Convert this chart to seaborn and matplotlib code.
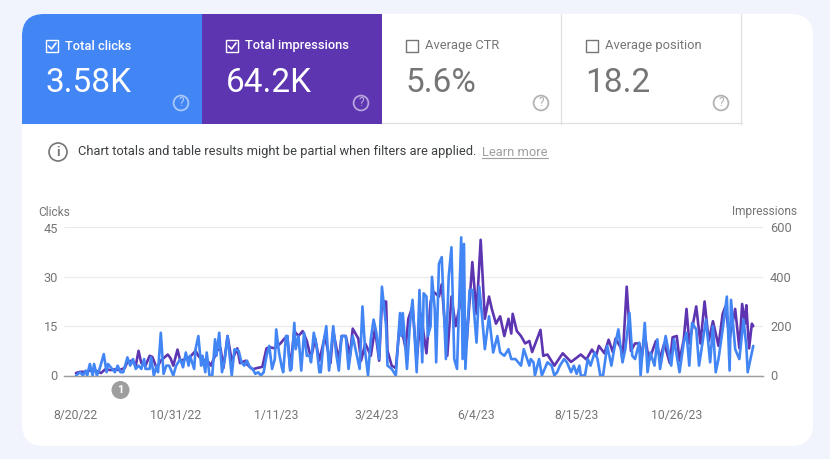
import pandas as pd
import matplotlib
matplotlib.use('Agg')
import matplotlib.pyplot as plt
from matplotlib.patches import Rectangle, Circle, FancyBboxPatch
import seaborn as sns

# days since 8/20/22 and values
click_days = [0,3,5,7,8,10,12,13,15,17,20,22,23,25,28,30,32,34,37,39,41,43,45,47,49,50,53,54,56,58,59,61,63,65,67,70,72,75,77,79,81,82,85,86,88,90,91,93,94,96,98,100,101,103,105,107,109,112,114,117,119,121,123,125,127,129,131,133,135,137,139,141,143,144,146,148,149,151,152,154,155,157,158,160,162,164,166,168,169,171,173,175,176,178,180,182,185,187,189,191,194,196,199,201,204,206,208,210,212,214,216,218,220,223,224,227,230,233,234,235,238,240,242,245,247,249,250,252,253,255,256,258,259,261,263,265,266,268,270,272,274,277,278,279,280,283,285,288,290,292,294,297,300,303,305,308,311,313,316,320,322,326,327,329,330,333,335,339,342,344,346,348,351,353,356,358,360,362,363,366,368,370,373,375,377,379,382,385,387,390,393,395,398,400,402,405,406,409,411,413,416,418,420,424,428,430,434,437,439,441,443,446,448,453,456,458,460,462,465,468,470,471,474,477,480,482,483,487]
clicks = [0,1,0,1.5,0,3.5,0,3.5,0,2,6.5,1,3.5,2.5,1,3,1,1,5.5,3,5,2,3,2,5,2,2,5.5,0,3,1,13,0.5,3,3,0,3,5,2.5,7,3,6,2,8,12,3,6,1,7,0,0,11,6,13,1,5,12,0,8,7.5,4,3,4.5,2.5,2,0.5,1,0,1,6,9,2,5,14,7,2.5,1,12,12,1.5,2,16,8,12,1.5,13,6,6,4,13,9,1,1,10,15,1.5,15,7,1.5,12,12,2,12,8,2,21,7,0,11,17,13,5,27,15,3,2,0,19,12,19,2,15,23,1,26,4,25,24,12,15,30,20,4,34,36,15,5,30,39,5,2,42,5,40,2,26,26,10,27,18,8,18,7,12,7,6,8,5,5,3,8,3,5,4,0,5,0,4,3,0,1,3,5,4,1,3,0.5,3,0,0,5,3,7,5,0,0,9,3,8,14,4,8,19,6,5,10,0,16,1,7,3,11,2,12,3,11,1,10,13,3,16,14,3,17,4,15,1,5,14,24,1.5,23,8,5,17,9,1,9]

impression_days = [0,3,7,10,15,18,21,25,28,31,35,37,40,43,45,47,50,53,55,58,61,63,66,68,70,73,75,78,82,86,88,91,94,97,100,101,104,106,109,112,116,118,122,123,127,130,134,137,139,143,147,150,152,154,155,157,160,163,166,169,172,175,179,183,185,189,191,194,197,199,203,205,208,212,215,218,220,223,224,227,230,233,237,239,242,245,248,252,255,257,261,263,267,270,273,278,281,285,288,291,294,297,299,302,305,308,311,313,314,317,320,323,326,328,332,334,336,339,344,350,356,363,367,371,374,376,380,383,386,388,392,393,396,399,402,405,407,409,412,417,420,423,427,429,432,434,437,439,441,446,449,452,455,458,462,465,467,470,474,477,479,481,482,484,486,487]
impressions = [10,15,15,20,18,10,25,22,25,22,30,55,60,40,100,50,40,80,75,30,60,70,85,70,40,105,60,65,75,100,80,60,65,40,80,100,110,30,160,60,110,50,60,45,25,30,35,110,115,110,130,150,160,30,80,180,160,180,140,70,150,60,160,50,180,60,160,160,80,190,150,60,130,80,190,60,300,300,100,40,30,220,110,230,280,60,250,90,300,340,320,370,80,320,200,340,140,460,250,550,230,320,270,210,240,160,230,170,250,180,160,130,140,95,155,185,80,85,40,90,55,85,65,105,80,120,90,145,95,150,110,60,360,100,130,130,80,165,60,140,70,130,50,155,160,60,145,270,130,280,130,300,140,220,120,250,280,150,270,110,290,210,285,110,210,200]

tick_dates = ['2022-08-20','2022-10-31','2023-01-11','2023-03-24','2023-06-04','2023-08-15','2023-10-26']
tick_labels = ['8/20/22','10/31/22','1/11/23','3/24/23','6/4/23','8/15/23','10/26/23']
left_ticks = [0,15,30,45]
right_ticks = [0,200,400,600]

BLUE = '#4285F4'
PURPLE = '#5E35B1'
GRAY = '#757575'
LINE = '#E0E0E0'

sns.set_theme(style='white')
plt.rcParams['font.family'] = ['Roboto', 'DejaVu Sans']

start = pd.Timestamp('2022-08-20')
clicks_df = pd.DataFrame({'date': start + pd.to_timedelta(click_days, unit='D'), 'clicks': clicks})
impr_df = pd.DataFrame({'date': start + pd.to_timedelta(impression_days, unit='D'), 'impressions': impressions})

W, H = 830, 459
fig = plt.figure(figsize=(W/100, H/100), dpi=100, facecolor='#F1F4FD')

# page layer in pixel coordinates
bg = fig.add_axes([0, 0, 1, 1])
bg.set_xlim(0, W)
bg.set_ylim(H, 0)
bg.axis('off')

card = FancyBboxPatch((22, 14), 791, 432, boxstyle='round,pad=0,rounding_size=22', fc='white', ec='none')
bg.add_patch(card)

tiles = [
    (22, 'Total clicks', '3.58K', BLUE, True),
    (202, 'Total impressions', '64.2K', PURPLE, True),
    (382, 'Average CTR', '5.6%', None, False),
    (562, 'Average position', '18.2', None, False),
]
for x0, name, value, color, active in tiles:
    if active:
        r = Rectangle((x0, 14), 180, 110, fc=color, ec='none')
        bg.add_patch(r)
        r.set_clip_path(card)
    else:
        bg.plot([x0 + 179, x0 + 179], [14, 123.5], color=LINE, lw=0.9)
        bg.plot([x0, x0 + 179.5], [123, 123], color=LINE, lw=0.9)
    fg = 'white' if active else GRAY
    bg.add_patch(Rectangle((x0 + 24, 40), 12, 12, fc='none', ec=fg, lw=1.0))
    if active:
        bg.plot([x0 + 26.5, x0 + 29.5, x0 + 34], [46, 49, 43], color='white', lw=1.2)
    bg.text(x0 + 43, 46, name, color=fg, fontsize=9.3, va='center', weight=500 if active else 400)
    bg.text(x0 + 23.5, 82.5, value, color=fg, fontsize=24, va='center')
    bg.add_patch(Circle((x0 + 159, 103), 7.4, fc='none', ec=fg, lw=1.3, alpha=0.55))
    bg.text(x0 + 159, 103, '?', color=fg, fontsize=8.5, ha='center', va='center', alpha=0.6)

# filter notice
bg.add_patch(Circle((58, 152), 9, fc='none', ec=GRAY, lw=1.2))
bg.text(58, 152, 'i', color=GRAY, fontsize=9.5, ha='center', va='center', weight='bold')
bg.text(78, 152, 'Chart totals and table results might be partial when filters are applied.',
        color='#3C4043', fontsize=9.3, va='center')
bg.text(482, 152, 'Learn more', color='#9E9E9E', fontsize=9.3, va='center')
bg.plot([482, 548], [158, 158], color='#9E9E9E', lw=0.8)

bg.text(38, 212, 'Clicks', color=GRAY, fontsize=8.6, va='center')
bg.text(797, 212, 'Impressions', color=GRAY, fontsize=8.6, va='center', ha='right')

# chart
ax = fig.add_axes([64/W, 1 - 375.5/H, (763-64)/W, 148/H])
ax2 = ax.twinx()
ax.set_zorder(ax2.get_zorder() + 1)
ax.patch.set_visible(False)
ax2.patch.set_visible(False)

sns.lineplot(data=impr_df, x='date', y='impressions', ax=ax2, color=PURPLE, lw=1.9, estimator=None)
sns.lineplot(data=clicks_df, x='date', y='clicks', ax=ax, color=BLUE, lw=1.9, estimator=None)

ax.set_xlim(start - pd.Timedelta(days=8.6), start + pd.Timedelta(days=494))
ax.set_ylim(0, 45)
ax2.set_ylim(0, 600)
ax.set_yticks(left_ticks)
ax2.set_yticks(right_ticks)
ax.set_xticks(pd.to_datetime(tick_dates))
ax.set_xticklabels(tick_labels)
ax.set_xlabel('')
ax.set_ylabel('')
ax2.set_ylabel('')
ax.tick_params(axis='x', length=0, pad=24, labelsize=8.8, labelcolor=GRAY)
ax.tick_params(axis='y', length=0, pad=4.5, labelsize=9.2, labelcolor=GRAY)
ax2.tick_params(axis='y', length=0, pad=5, labelsize=9.2, labelcolor=GRAY)
ax2.grid(axis='y', color='#EBEBEB', lw=0.9)
ax2.set_axisbelow(True)
ax.grid(False)
for a in (ax, ax2):
    for s in ('top', 'left', 'right'):
        a.spines[s].set_visible(False)
    a.spines['bottom'].set_color('#9E9E9E')
    a.spines['bottom'].set_linewidth(0.9)

# annotation badge under the axis
bg.add_patch(Circle((120.5, 390), 9, fc='#9E9E9E', ec='none'))
bg.text(120.5, 390, '1', color='white', fontsize=8, ha='center', va='center', weight='bold')

fig.savefig('out.png', dpi=100, facecolor=fig.get_facecolor())
